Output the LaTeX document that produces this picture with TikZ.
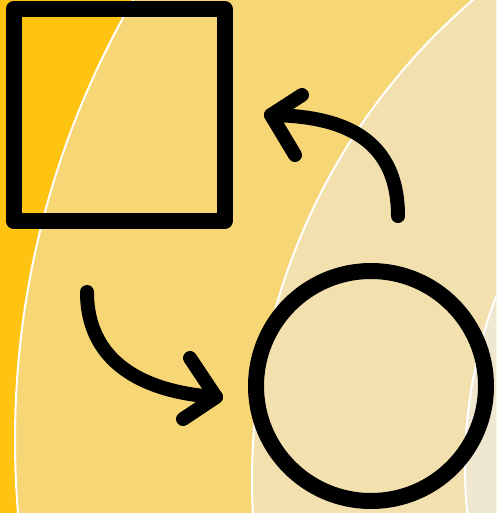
\documentclass[tikz,border=0pt]{standalone}
\usetikzlibrary{positioning}

\definecolor{bgdeep}{RGB}{255,195,18}
\definecolor{bglight}{RGB}{247,214,118}
\definecolor{bgpale}{RGB}{242,224,174}
\definecolor{bgpaler}{RGB}{240,231,208}

\begin{document}
\begin{tikzpicture}[
  x=1pt, y=-1pt,
  band/.style={draw=white, line width=2pt},
  shapebox/.style={rectangle, draw, line width=16pt, line join=round, inner sep=0pt, minimum width=211pt, minimum height=212pt},
  shaperound/.style={circle, draw, line width=16pt, inner sep=0pt, minimum size=230pt},
  turn/.style={draw, line width=14pt, line cap=round, line join=round}
]
  \useasboundingbox (0,0) rectangle (496,513);
  % background bands
  \fill[bgdeep] (0,0) rectangle (496,513);
  \begin{scope}
    \clip (0,0) rectangle (496,513);
    \fill[bglight, band] (892,440) circle[radius=877pt];
    \fill[bgpale, band] (884,480) circle[radius=632pt];
    \fill[bgpaler, band] (947,467) circle[radius=482pt];
  \end{scope}
  % shapes
  \node[shapebox] (square) at (119,115) {};
  \node[shaperound] (round) at (371,386) {};
  % arrow from square to circle
  \coordinate (s1) at (87,292);
  \coordinate (t1) at (216,397);
  \coordinate (b1a) at (190,358);
  \coordinate (b1b) at (183,419);
  \path[turn] (s1) .. controls (87,360) and (140,392) .. (t1);
  \path[turn] (b1a) -- (t1) -- (b1b);
  % arrow from circle back to square
  \coordinate (s2) at (398,216);
  \coordinate (t2) at (271,115);
  \coordinate (b2a) at (302,95);
  \coordinate (b2b) at (295,155);
  \path[turn] (s2) .. controls (398,130) and (330,116) .. (t2);
  \path[turn] (b2a) -- (t2) -- (b2b);
\end{tikzpicture}
\end{document}
